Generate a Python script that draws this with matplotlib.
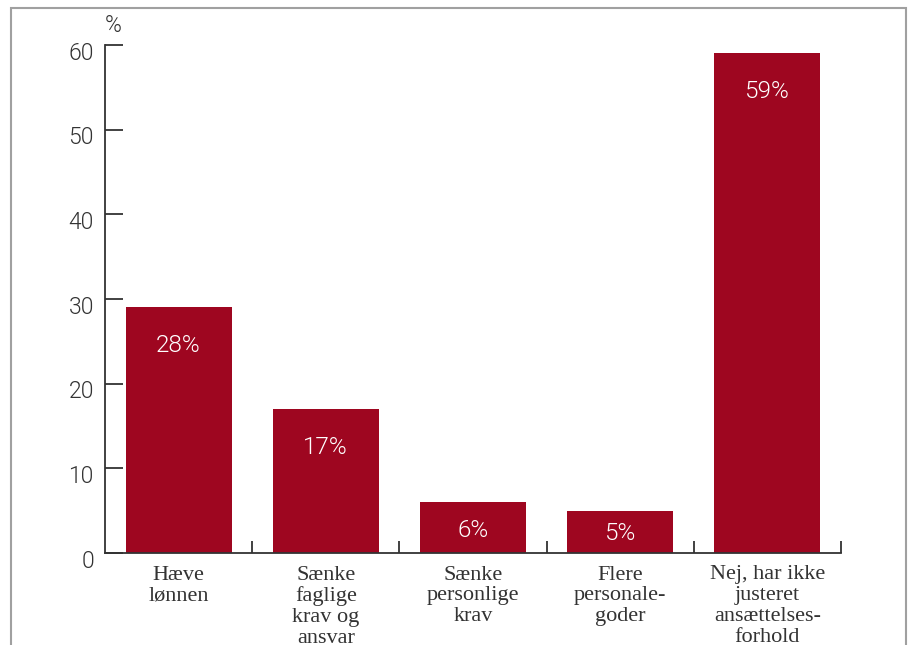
import matplotlib
matplotlib.use("Agg")
import matplotlib.pyplot as plt
import matplotlib.transforms as mtransforms
from matplotlib.patches import Rectangle

# data
kategorier = ["Hæve\nlønnen", "Sænke\nfaglige\nkrav og\nansvar", "Sænke\npersonlige\nkrav",
              "Flere\npersonale-\ngoder", "Nej, har ikke\njusteret\nansættelses-\nforhold"]
vaerdier = [29, 17, 6, 5, 59]
etiketter = ["28%", "17%", "6%", "5%", "59%"]
yticks = [0, 10, 20, 30, 40, 50, 60]

rod = "#9E0620"
tekst = "#333333"
talfont = "Roboto"
kat_font = "Liberation Serif"

fig = plt.figure(figsize=(9.12, 6.45), dpi=100)
ax = fig.add_axes([105/912, 1-553/645, (841-105)/912, (553-45)/645])

x = range(len(vaerdier))
ax.bar(x, vaerdier, width=0.72, color=rod, zorder=2)

ax.set_xlim(-0.5, len(vaerdier) - 0.5)
ax.set_ylim(0, 60)

for s in ["top", "right"]:
    ax.spines[s].set_visible(False)
for s in ["left", "bottom"]:
    ax.spines[s].set_color(tekst)
    ax.spines[s].set_linewidth(1.3)

ax.set_yticks(yticks)
ax.set_yticklabels([str(t) for t in yticks], fontname=talfont, fontweight=300,
                   fontsize=16.5, color=tekst)
ax.tick_params(axis="y", direction="in", length=13, width=1.3, color=tekst, pad=8)
off = mtransforms.ScaledTranslation(0, -4/72, fig.dpi_scale_trans)
for lab in ax.get_yticklabels():
    lab.set_transform(lab.get_transform() + off)

ax.set_xticks([i + 0.5 for i in x])
ax.set_xticklabels([])
ax.tick_params(axis="x", direction="in", length=9, width=1.3, color=tekst)

# etiketter paa soejlerne
for i, (v, e) in enumerate(zip(vaerdier, etiketter)):
    ypos = max(v * 0.45, v - 4.5)
    ax.text(i, ypos, e, ha="center", va="center", color="white",
            fontname=talfont, fontweight=300, fontsize=17.5, zorder=3)

# kategorinavne under aksen
for i, k in enumerate(kategorier):
    ax.annotate(k, xy=(i, 0), xytext=(0, -9), textcoords="offset points",
                ha="center", va="top", multialignment="center",
                fontname=kat_font, fontsize=16, color=tekst, linespacing=1.13,
                annotation_clip=False)

ax.annotate("%", xy=(0, 1), xycoords="axes fraction", xytext=(0, 6),
            textcoords="offset points", ha="left", va="bottom",
            fontname=talfont, fontweight=300, fontsize=16.5, color=tekst)

# ramme
ramme = Rectangle((11/912, -0.2), (906-11)/912, 1-8/645+0.2, transform=fig.transFigure,
                  fill=False, edgecolor="#a0a0a0", linewidth=1.5, clip_on=False)
fig.patches.append(ramme)

fig.savefig("out.png", dpi=100)
